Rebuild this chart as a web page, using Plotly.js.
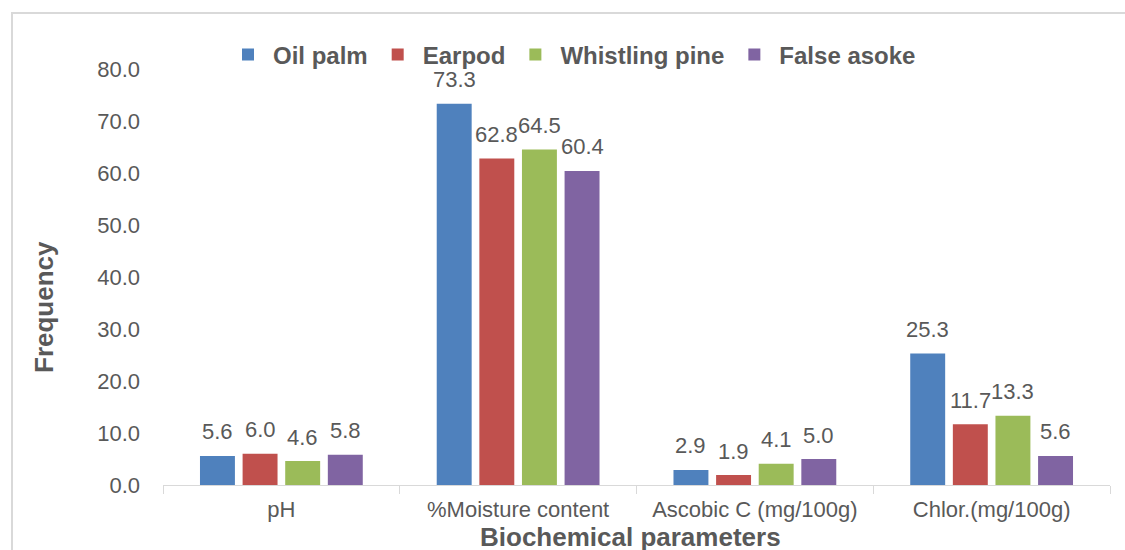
<!DOCTYPE html>
<html>
<head>
<meta charset="utf-8">
<script src="https://cdn.plot.ly/plotly-3.0.1.min.js"></script>
<style>
  html, body { margin: 0; padding: 0; background: #fff; }
  #chart { width: 1125px; height: 550px; }
</style>
</head>
<body>
<div id="chart"></div>
<script>
// ---- data ----
const categories = ["pH", "%Moisture content", "Ascobic C (mg/100g)", "Chlor.(mg/100g)"];
const seriesNames = ["Oil palm", "Earpod", "Whistling pine", "False asoke"];
const oilPalm = [5.6, 73.3, 2.9, 25.3];
const earpod = [6.0, 62.8, 1.9, 11.7];
const whistlingPine = [4.6, 64.5, 4.1, 13.3];
const falseAsoke = [5.8, 60.4, 5.0, 5.6];
const yTickVals = [0, 10, 20, 30, 40, 50, 60, 70, 80];
const yTickText = ["0.0", "10.0", "20.0", "30.0", "40.0", "50.0", "60.0", "70.0", "80.0"];

const allSeries = [oilPalm, earpod, whistlingPine, falseAsoke];
const colors = ["#4F81BD", "#C0504D", "#9BBB59", "#8064A2"];

// ---- layout constants ----
const W = 1125, H = 550;
const M = { l: 163, r: 15, t: 69, b: 65 };
const plotW = W - M.l - M.r;
const plotH = H - M.t - M.b;
const bargap = 0.28;
const FONT = "Liberation Sans, Arial, sans-serif";
const GREY = "#595959";

const traces = allSeries.map((vals, i) => ({
  type: "bar",
  name: seriesNames[i],
  x: categories,
  y: vals,
  marker: { color: colors[i] },
  hoverinfo: "none"
}));

// data labels derived from the values
const catW = plotW / categories.length;
const slot = catW * (1 - bargap) / allSeries.length;
const annotations = [];
allSeries.forEach((vals, i) => {
  vals.forEach((v, j) => {
    annotations.push({
      x: categories[j], y: v, xref: "x", yref: "y",
      text: v.toFixed(1), showarrow: false,
      xshift: (i - (allSeries.length - 1) / 2) * slot,
      yshift: 24, yanchor: "middle", xanchor: "center",
      font: { family: FONT, size: 22, color: GREY }
    });
  });
});

// axis titles
annotations.push({
  xref: "paper", yref: "paper",
  x: (44 - M.l) / plotW, y: (H - M.b - 307) / plotH,
  xanchor: "center", yanchor: "middle",
  text: "<b>Frequency</b>", textangle: -90, showarrow: false,
  font: { family: FONT, size: 26, color: GREY }
});
annotations.push({
  xref: "paper", yref: "paper",
  x: (630 - M.l) / plotW, y: (H - M.b - 537) / plotH,
  xanchor: "center", yanchor: "middle",
  text: "<b>Biochemical parameters</b>", showarrow: false,
  font: { family: FONT, size: 26, color: GREY }
});

const layout = {
  width: W, height: H,
  margin: M,
  paper_bgcolor: "#ffffff",
  plot_bgcolor: "#ffffff",
  barmode: "group",
  bargap: bargap,
  bargroupgap: 0.18,
  showlegend: true,
  legend: {
    orientation: "h",
    x: (223 - M.l) / plotW, xanchor: "left",
    y: (H - M.b - 55) / plotH, yanchor: "middle",
    font: { family: FONT, size: 24, color: GREY, weight: "bold" },
    traceorder: "normal",
    itemwidth: 40,
    itemclick: false
  },
  xaxis: {
    type: "category",
    showgrid: false,
    showline: true, linecolor: "#d9d9d9", linewidth: 1,
    ticks: "outside", tickson: "boundaries", ticklen: 8, tickcolor: "#d9d9d9",
    ticklabelstandoff: 5,
    tickfont: { family: FONT, size: 22, color: GREY },
    zeroline: false
  },
  yaxis: {
    range: [0, 80],
    tickvals: yTickVals, ticktext: yTickText,
    showgrid: false, showline: false, zeroline: false,
    ticks: "",
    ticklabelstandoff: 22,
    tickfont: { family: FONT, size: 22, color: GREY }
  },
  annotations: annotations,
  shapes: [{
    type: "rect", xref: "paper", yref: "paper", layer: "below",
    x0: (12 - M.l) / plotW, x1: (1140 - M.l) / plotW,
    y0: (H - M.b - 560) / plotH, y1: (H - M.b - 13) / plotH,
    line: { color: "#d9d9d9", width: 2 }, fillcolor: "rgba(0,0,0,0)"
  }]
};

Plotly.newPlot("chart", traces, layout, { displayModeBar: false, staticPlot: true });
</script>
</body>
</html>
